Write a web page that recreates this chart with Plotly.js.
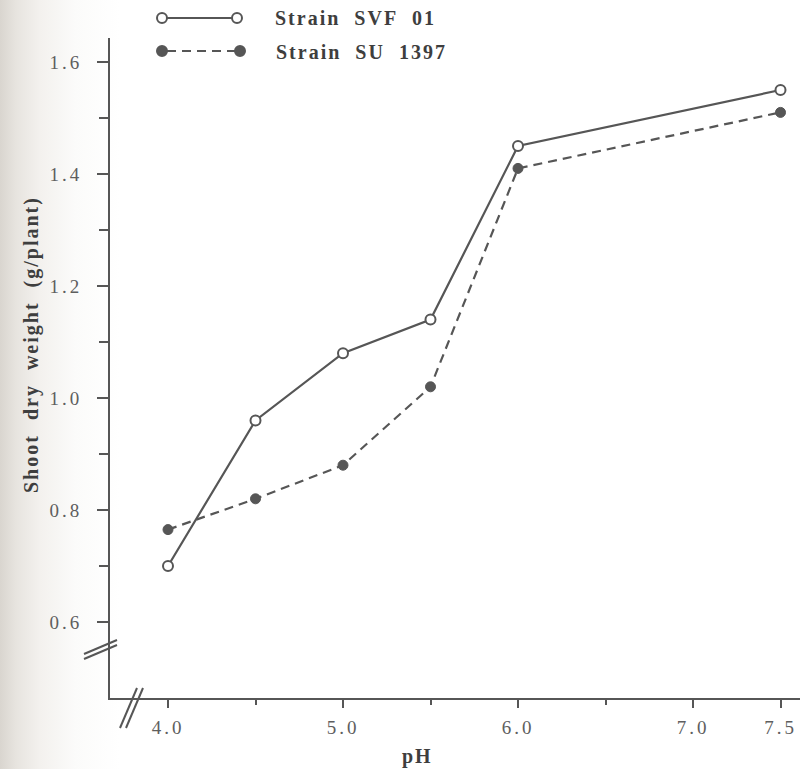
<!DOCTYPE html>
<html>
<head>
<meta charset="utf-8">
<script src="https://cdn.plot.ly/plotly-3.0.1.min.js"></script>
<style>
  html, body { margin: 0; padding: 0; }
  body {
    width: 803px; height: 769px; overflow: hidden;
    background: linear-gradient(to right, #d9d5cf 0px, #e7e4df 16px, #f3f1ee 40px, #fbfbfa 75px, #ffffff 120px);
  }
  #chart { width: 803px; height: 769px; }
  #chart text { letter-spacing: 2px; }
  #chart .xtick text, #chart .ytick text { letter-spacing: 3px; }
</style>
</head>
<body>
<div id="chart"></div>
<script>
// Shoot dry weight of plants inoculated with two strains, across soil pH
const phValues = [4.0, 4.5, 5.0, 5.5, 6.0, 7.5];
const svf01 = [0.70, 0.96, 1.08, 1.14, 1.45, 1.55];
const su1397 = [0.765, 0.82, 0.88, 1.02, 1.41, 1.51];
const seriesNames = ['Strain\u00a0\u00a0SVF\u00a0\u00a001', 'Strain\u00a0\u00a0SU\u00a0\u00a01397'];

const xTickVals = [4.0, 5.0, 6.0, 7.0, 7.5];
const xTickText = ['4.0', '5.0', '6.0', '7.0', '7.5'];
const xMinorVals = [4.5, 5.5, 6.5];
const yTickVals = [0.6, 0.8, 1.0, 1.2, 1.4, 1.6];
const yTickText = ['0.6', '0.8', '1.0', '1.2', '1.4', '1.6'];

const xTitle = 'pH';
const yTitle = 'Shoot\u00a0\u00a0dry\u00a0\u00a0weight\u00a0\u00a0(g/plant)';

// ---- page geometry ----
const W = 803, H = 769;
const M = { l: 110, r: 3, t: 38, b: 71 };
const plotW = W - M.l - M.r, plotH = H - M.t - M.b;
// pixel -> paper helpers for decorations (legend keys, axis breaks, labels)
const fx = px => (px - M.l) / plotW;
const fy = py => (H - M.b - py) / plotH;

const ink = '#565656';
const serif = "'Liberation Serif', 'Times New Roman', Times, serif";

const yMinor = yTickVals.slice(0, -1).map((v, i) => +((v + yTickVals[i + 1]) / 2).toFixed(2));

const styleSolid = { color: ink, width: 2.2 };
const styleDash = { color: ink, width: 2.2, dash: '9px,6px' };

const traces = [
  {
    x: phValues, y: svf01, name: seriesNames[0], type: 'scatter', mode: 'lines+markers',
    line: styleSolid, cliponaxis: false,
    marker: { symbol: 'circle', size: 10, color: '#ffffff', line: { color: ink, width: 2 } }
  },
  {
    x: phValues, y: su1397, name: seriesNames[1], type: 'scatter', mode: 'lines+markers',
    line: styleDash, cliponaxis: false,
    marker: { symbol: 'circle', size: 10, color: ink, line: { color: ink, width: 1 } }
  }
];

// legend keys: a line between two markers, drawn beside each series name
function legendKey(py, x0, x1, lineStyle, filled) {
  const r = 5;
  const out = [{
    type: 'line', xref: 'paper', yref: 'paper', layer: 'above',
    x0: fx(x0 + r), x1: fx(x1 - r), y0: fy(py), y1: fy(py),
    line: { color: lineStyle.color, width: lineStyle.width, dash: lineStyle.dash || 'solid' }
  }];
  [x0, x1].forEach(cx => out.push({
    type: 'circle', xref: 'paper', yref: 'paper', layer: 'above',
    x0: fx(cx - r), x1: fx(cx + r), y0: fy(py + r), y1: fy(py - r),
    fillcolor: filled ? ink : '#ffffff',
    line: { color: ink, width: 2 }
  }));
  return out;
}

// double-stroke axis break marks
function breakMarks(a, b, dx, dy) {
  return [0, 1].map(k => ({
    type: 'line', xref: 'paper', yref: 'paper', layer: 'above',
    x0: fx(a[0] + k * dx), y0: fy(a[1] + k * dy),
    x1: fx(b[0] + k * dx), y1: fy(b[1] + k * dy),
    line: { color: ink, width: 2 }
  }));
}

const shapes = [].concat(
  legendKey(18, 162, 237, styleSolid, false),
  legendKey(51, 162, 240, styleDash, true),
  breakMarks([84, 654], [117, 640], 0, 5),
  breakMarks([120, 728], [137, 688], 6, 0)
);

const labelFont = { family: serif, size: 20, color: '#3e3e3e', weight: 'bold' };

const annotations = [
  { text: seriesNames[0], x: fx(355), y: fy(18), xref: 'paper', yref: 'paper',
    xanchor: 'center', yanchor: 'middle', showarrow: false, font: labelFont },
  { text: seriesNames[1], x: fx(361), y: fy(52), xref: 'paper', yref: 'paper',
    xanchor: 'center', yanchor: 'middle', showarrow: false, font: labelFont },
  { text: yTitle, x: fx(31), y: fy(345), xref: 'paper', yref: 'paper', textangle: -90,
    xanchor: 'center', yanchor: 'middle', showarrow: false, font: labelFont },
  { text: xTitle, x: fx(417), y: fy(756), xref: 'paper', yref: 'paper',
    xanchor: 'center', yanchor: 'middle', showarrow: false, font: labelFont }
];

const tickFont = { family: serif, size: 19, color: '#5e5e5e' };

const layout = {
  width: W, height: H,
  margin: M,
  paper_bgcolor: 'rgba(0,0,0,0)',
  plot_bgcolor: 'rgba(0,0,0,0)',
  showlegend: false,
  xaxis: {
    range: [4.0 - 58 / 175, 4.0 + 632 / 175],
    showgrid: false, zeroline: false,
    showline: true, linecolor: ink, linewidth: 2,
    tickmode: 'array', tickvals: xTickVals, ticktext: xTickText,
    ticks: 'outside', ticklen: 8, tickwidth: 2, tickcolor: ink,
    ticklabelstandoff: 3,
    minor: { tickmode: 'array', tickvals: xMinorVals, ticks: 'outside', ticklen: 5, tickwidth: 2, tickcolor: ink, showgrid: false },
    tickfont: tickFont
  },
  yaxis: {
    range: [0.6 - 76 / 560, 1.6 + 24 / 560],
    showgrid: false, zeroline: false,
    showline: true, linecolor: ink, linewidth: 2,
    tickmode: 'array', tickvals: yTickVals, ticktext: yTickText,
    ticks: 'outside', ticklen: 11, tickwidth: 2, tickcolor: ink,
    ticklabelstandoff: 11,
    minor: { tickmode: 'array', tickvals: yMinor, ticks: 'outside', ticklen: 9, tickwidth: 2, tickcolor: ink, showgrid: false },
    tickfont: tickFont
  },
  shapes: shapes,
  annotations: annotations
};

Plotly.newPlot('chart', traces, layout, { displayModeBar: false, staticPlot: true });
</script>
</body>
</html>
